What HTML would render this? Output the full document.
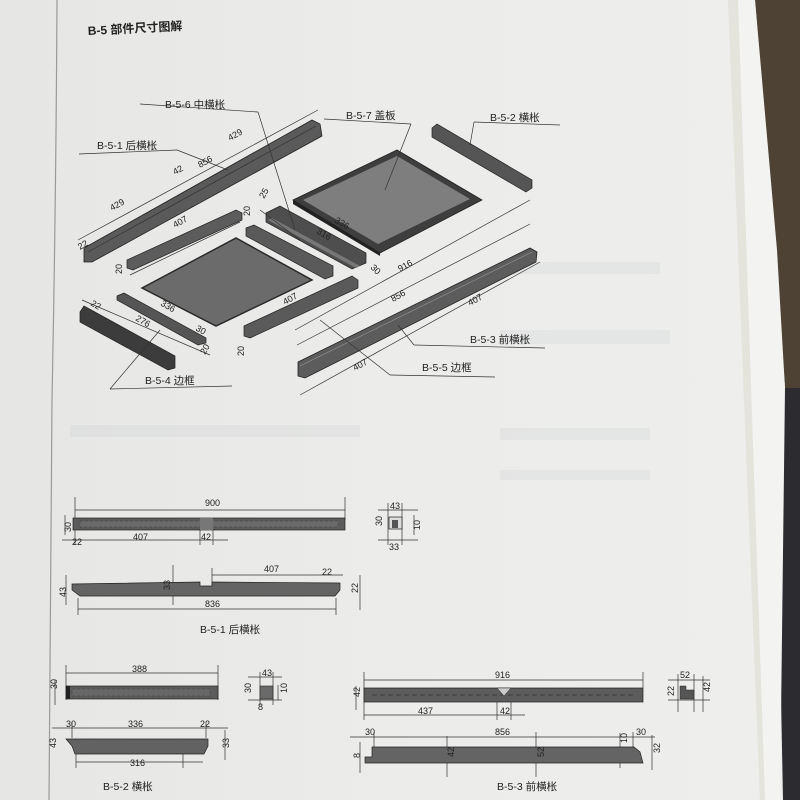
<!DOCTYPE html>
<html><head><meta charset="utf-8"><style>
html,body{margin:0;padding:0;width:800px;height:800px;overflow:hidden;background:#e9e9e7}
svg{display:block}
text{font-family:"Liberation Sans","Noto Sans CJK SC",sans-serif;fill:#222}
.l{stroke:#333;stroke-width:0.7;fill:none}
.d{font-size:9px}
.lb{font-size:10.5px}
</style></head><body>
<svg width="800" height="800" viewBox="0 0 800 800" xmlns="http://www.w3.org/2000/svg">
<defs><linearGradient id="pg" x1="0" x2="1"><stop offset="0" stop-color="#e6e6e4"/><stop offset="0.5" stop-color="#ececea"/><stop offset="1" stop-color="#eeeeec"/></linearGradient></defs>
<rect width="800" height="800" fill="url(#pg)"/>
<polygon points="755,0 800,0 800,388 785,388 775,250" fill="#4e4234"/>
<polygon points="775,388 800,388 800,800 783,800" fill="#2c2b30"/>
<polygon points="738,0 755,0 777,250 785,388 780,800 765,800" fill="#f3f3f2"/>
<polygon points="728,0 738,0 765,800 760,800" fill="#e4e3dc"/>
<path d="M57,0 Q56,200 52,400 Q50,600 49,800" stroke="#9a9a98" stroke-width="1.2" fill="none"/>
<g opacity="0.08" fill="#8a96a8">
<rect x="500" y="262" width="160" height="12"/><rect x="500" y="330" width="170" height="14"/>
<rect x="70" y="425" width="290" height="12"/><rect x="500" y="428" width="150" height="12"/>
<rect x="500" y="470" width="150" height="10"/>
</g>
<text x="88" y="35" style="font-size:12px;font-weight:bold" transform="rotate(-3 88 35)">B-5 部件尺寸图解</text>

<polygon points="84,248 312,120 320,124 322,136 92,262 84,262" fill="#5a5a5a" stroke="#222" stroke-width="0.8"/>
<polyline points="88,252 316,126" class="l" stroke="#aaa"/>
<polygon points="127,260 236,210 242,213 242,220 133,270 127,268" fill="#5c5c5c" stroke="#222" stroke-width="0.7"/>
<polygon points="142,288 236,238 312,280 216,326" fill="#6b6b6b" stroke="#2a2a2a" stroke-width="1.5"/>
<polygon points="246,228 254,225 333,266 333,276 325,279 246,236" fill="#5a5a5a" stroke="#222" stroke-width="0.7"/>
<polygon points="266,213 280,206 366,253 366,263 352,269 266,222" fill="#4e4e4e" stroke="#222" stroke-width="0.7"/>
<polygon points="268,220 272,218 360,266 356,268" fill="#777"/>
<polygon points="293,200 397,150 482,200 380,253" fill="#3e3e3e" stroke="#222" stroke-width="0.8"/>
<polygon points="303,200 397,156 470,199 378,244" fill="#7e7e7e"/>
<polygon points="293,200 380,253 380,256 293,204" fill="#222"/>
<polygon points="432,128 437,124 532,180 532,188 526,192 432,137" fill="#555" stroke="#222" stroke-width="0.7"/>
<polygon points="244,326 352,276 358,280 358,288 250,338 244,336" fill="#5a5a5a" stroke="#222" stroke-width="0.7"/>
<polygon points="298,362 530,248 537,252 536,262 305,378 298,376" fill="#5c5c5c" stroke="#222" stroke-width="0.8"/>
<polyline points="300,366 532,252" stroke="#999" stroke-width="0.6"/>
<polygon points="80,312 84,306 175,356 175,368 168,370 80,322" fill="#3c3c3c" stroke="#222" stroke-width="0.7"/>
<polygon points="117,296 124,293 206,338 206,343 198,345 117,300" fill="#555" stroke="#222" stroke-width="0.7"/>
<g class="l">
<line x1="78" y1="240" x2="318" y2="110"/><line x1="140" y1="104" x2="258" y2="112"/><line x1="258" y1="112" x2="295" y2="230"/>
<line x1="79" y1="154" x2="177" y2="150"/><line x1="177" y1="150" x2="228" y2="170"/>
<line x1="324" y1="119" x2="411" y2="124"/><line x1="411" y1="124" x2="385" y2="190"/>
<line x1="474" y1="122" x2="560" y2="125"/><line x1="474" y1="122" x2="470" y2="145"/>
<line x1="130" y1="275" x2="240" y2="222"/><line x1="300" y1="395" x2="540" y2="262"/>
<line x1="297" y1="345" x2="530" y2="224"/><line x1="295" y1="330" x2="530" y2="200"/>
<line x1="414" y1="345" x2="545" y2="348"/><line x1="414" y1="345" x2="398" y2="325"/>
<line x1="390" y1="375" x2="495" y2="377"/><line x1="390" y1="375" x2="320" y2="320"/>
<line x1="110" y1="389" x2="232" y2="386"/><line x1="110" y1="389" x2="160" y2="330"/>
<line x1="82" y1="300" x2="210" y2="355"/><line x1="260" y1="210" x2="300" y2="240"/>
</g>
<g class="d">
<text x="230" y="141" transform="rotate(-29 230 141)">429</text>
<text x="200" y="168" transform="rotate(-29 200 168)">856</text>
<text x="175" y="175" transform="rotate(-29 175 175)">42</text>
<text x="112" y="211" transform="rotate(-29 112 211)">429</text>
<text x="175" y="228" transform="rotate(-29 175 228)">407</text>
<text x="250" y="216" transform="rotate(-90 250 216)">20</text>
<text x="122" y="274" transform="rotate(-90 122 274)">20</text>
<text x="264" y="199" transform="rotate(-60 264 199)">25</text>
<text x="334" y="222" transform="rotate(30 334 222)">336</text>
<text x="316" y="233" transform="rotate(30 316 233)">316</text>
<text x="370" y="268" transform="rotate(45 370 268)">30</text>
<text x="400" y="272" transform="rotate(-29 400 272)">916</text>
<text x="393" y="302" transform="rotate(-29 393 302)">856</text>
<text x="285" y="305" transform="rotate(-29 285 305)">407</text>
<text x="470" y="306" transform="rotate(-29 470 306)">407</text>
<text x="355" y="371" transform="rotate(-29 355 371)">407</text>
<text x="244" y="356" transform="rotate(-90 244 356)">20</text>
<text x="160" y="305" transform="rotate(30 160 305)">336</text>
<text x="135" y="320" transform="rotate(30 135 320)">276</text>
<text x="195" y="330" transform="rotate(30 195 330)">30</text>
<text x="205" y="355" transform="rotate(-60 205 355)">20</text>
<text x="90" y="305" transform="rotate(30 90 305)">22</text>
<text x="80" y="250" transform="rotate(-30 80 250)">22</text>
</g>
<g class="lb">
<text x="165" y="108">B-5-6 中横枨</text>
<text x="97" y="149">B-5-1 后横枨</text>
<text x="346" y="119">B-5-7 盖板</text>
<text x="490" y="121">B-5-2 横枨</text>
<text x="470" y="343">B-5-3 前横枨</text>
<text x="422" y="371">B-5-5 边框</text>
<text x="145" y="384">B-5-4 边框</text>
</g>

<g class="l">
<line x1="75" y1="510" x2="345" y2="510"/><line x1="75" y1="497" x2="75" y2="545"/><line x1="345" y1="497" x2="345" y2="520"/>
<line x1="62" y1="540" x2="228" y2="540"/><line x1="200" y1="530" x2="200" y2="545"/><line x1="213" y1="530" x2="213" y2="545"/>
<line x1="65" y1="515" x2="65" y2="535"/><line x1="66" y1="575" x2="66" y2="605"/>
<line x1="78" y1="609" x2="336" y2="609"/><line x1="78" y1="598" x2="78" y2="615"/><line x1="336" y1="598" x2="336" y2="615"/>
<line x1="212" y1="575" x2="343" y2="575"/><line x1="212" y1="568" x2="212" y2="585"/><line x1="173" y1="565" x2="173" y2="605"/>
<line x1="360" y1="575" x2="360" y2="610"/>
</g>
<rect x="73" y="518" width="272" height="12" fill="#5c5c5c" stroke="#222" stroke-width="0.7"/>
<rect x="80" y="521" width="258" height="6" fill="#6a6a6a" stroke="#333" stroke-width="0.4" stroke-dasharray="3,2"/>
<rect x="200" y="518" width="13" height="12" fill="#777"/>
<polygon points="72,584 200,582 200,586 212,586 212,582 340,583 340,590 335,596 80,596 72,590" fill="#646464" stroke="#222" stroke-width="0.7"/>
<g class="d"><text x="205" y="506">900</text><text x="58" y="533" transform="rotate(-90 64 526)">30</text><text x="72" y="545">22</text><text x="133" y="540">407</text><text x="201" y="540">42</text>
<text x="264" y="572">407</text><text x="322" y="575">22</text><text x="205" y="607">836</text><text x="55" y="594" transform="rotate(-90 62 590)">43</text><text x="352" y="595" transform="rotate(-90 354 591)">22</text><text x="170" y="590" transform="rotate(-90 170 590)">33</text></g>
<text class="lb" x="200" y="633">B-5-1 后横枨</text>
<g class="l"><line x1="378" y1="510" x2="418" y2="510"/><line x1="378" y1="540" x2="418" y2="540"/><line x1="388" y1="503" x2="388" y2="545"/><line x1="402" y1="503" x2="402" y2="545"/><line x1="414" y1="515" x2="414" y2="535"/></g>
<rect x="389" y="517" width="13" height="12" fill="#ddd" stroke="#222" stroke-width="0.7"/><rect x="392" y="520" width="6" height="8" fill="#555"/>
<g class="d"><text x="390" y="509">43</text><text x="389" y="550">33</text><text x="378" y="530" transform="rotate(-90 378 526)">30</text><text x="415" y="535" transform="rotate(-90 415 530)">10</text></g>

<g class="l"><line x1="66" y1="673" x2="218" y2="673"/><line x1="66" y1="665" x2="66" y2="700"/><line x1="218" y1="665" x2="218" y2="700"/><line x1="55" y1="680" x2="55" y2="705"/>
<line x1="52" y1="728" x2="228" y2="728"/><line x1="72" y1="722" x2="72" y2="738"/><line x1="206" y1="722" x2="206" y2="738"/>
<line x1="76" y1="762" x2="203" y2="762"/><line x1="76" y1="752" x2="76" y2="768"/><line x1="183" y1="740" x2="183" y2="768"/><line x1="225" y1="730" x2="225" y2="760"/></g>
<rect x="66" y="686" width="152" height="13" fill="#5c5c5c" stroke="#222" stroke-width="0.7"/><rect x="66" y="686" width="4" height="13" fill="#222"/>
<rect x="72" y="689" width="138" height="7" fill="#676767" stroke="#333" stroke-width="0.4" stroke-dasharray="3,2"/>
<polygon points="66,739 208,739 208,746 204,754 75,754 72,746" fill="#626262" stroke="#222" stroke-width="0.7"/>
<g class="d"><text x="132" y="672">388</text><text x="55" y="697" transform="rotate(-90 52 692)">30</text><text x="66" y="727">30</text><text x="128" y="727">336</text><text x="200" y="727">22</text><text x="130" y="766">316</text><text x="52" y="752" transform="rotate(-90 52 748)">43</text><text x="225" y="752" transform="rotate(-90 225 748)">33</text></g>
<text class="lb" x="103" y="790">B-5-2 横枨</text>
<g class="l"><line x1="248" y1="677" x2="282" y2="677"/><line x1="248" y1="700" x2="282" y2="700"/><line x1="260" y1="672" x2="260" y2="705"/><line x1="273" y1="672" x2="273" y2="705"/><line x1="278" y1="685" x2="278" y2="700"/></g>
<rect x="260" y="686" width="13" height="13" fill="#6a6a6a" stroke="#222" stroke-width="0.6"/>
<g class="d"><text x="262" y="676">43</text><text x="258" y="710">8</text><text x="247" y="697" transform="rotate(-90 247 693)">30</text><text x="282" y="698" transform="rotate(-90 282 693)">10</text></g>

<g class="l"><line x1="364" y1="680" x2="643" y2="680"/><line x1="364" y1="672" x2="364" y2="720"/><line x1="643" y1="672" x2="643" y2="688"/><line x1="356" y1="686" x2="356" y2="710"/>
<line x1="364" y1="715" x2="525" y2="715"/><line x1="497" y1="700" x2="497" y2="720"/><line x1="511" y1="700" x2="511" y2="720"/>
<line x1="350" y1="737" x2="655" y2="737"/><line x1="374" y1="732" x2="374" y2="748"/><line x1="633" y1="732" x2="633" y2="748"/>
<line x1="447" y1="736" x2="447" y2="777"/><line x1="536" y1="732" x2="536" y2="777"/><line x1="620" y1="733" x2="620" y2="768"/><line x1="652" y1="735" x2="652" y2="770"/><line x1="360" y1="742" x2="360" y2="773"/></g>
<rect x="364" y="688" width="279" height="14" fill="#5c5c5c" stroke="#222" stroke-width="0.7"/>
<line x1="372" y1="695" x2="636" y2="695" stroke="#333" stroke-dasharray="5,3" stroke-width="0.7"/>
<polygon points="497,688 511,688 504,696" fill="#ccc" stroke="#222" stroke-width="0.5"/>
<polygon points="372,747 634,747 640,752 643,763 365,763 365,757 372,757" fill="#646464" stroke="#222" stroke-width="0.7"/>
<g class="d"><text x="495" y="678">916</text><text x="418" y="714">437</text><text x="500" y="714">42</text><text x="356" y="701" transform="rotate(-90 356 697)">42</text>
<text x="365" y="735">30</text><text x="495" y="735">856</text><text x="636" y="735">30</text><text x="358" y="764" transform="rotate(-90 356 760)">8</text><text x="449" y="762" transform="rotate(-90 449 757)">42</text><text x="539" y="762" transform="rotate(-90 539 757)">52</text><text x="622" y="748" transform="rotate(-90 622 743)">10</text><text x="655" y="758" transform="rotate(-90 655 753)">32</text></g>
<text class="lb" x="497" y="790">B-5-3 前横枨</text>
<g class="l"><line x1="668" y1="680" x2="710" y2="680"/><line x1="668" y1="700" x2="710" y2="700"/><line x1="678" y1="674" x2="678" y2="712"/><line x1="694" y1="674" x2="694" y2="712"/><line x1="703" y1="676" x2="703" y2="712"/></g>
<polygon points="680,686 686,686 686,690 694,690 694,699 680,699" fill="#555" stroke="#222" stroke-width="0.5"/>
<g class="d"><text x="680" y="678">52</text><text x="670" y="700" transform="rotate(-90 670 696)">22</text><text x="706" y="696" transform="rotate(-90 706 692)">42</text></g>
</svg>
</body></html>
